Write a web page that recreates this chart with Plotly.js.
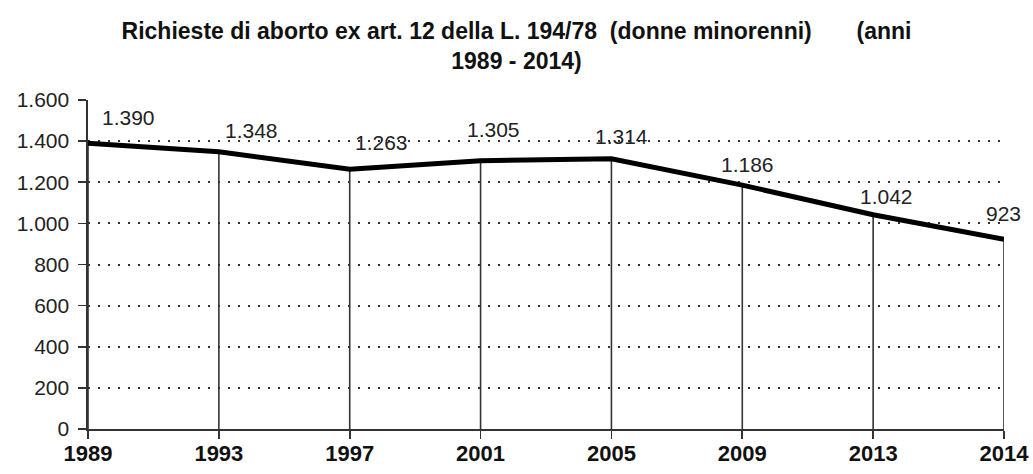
<!DOCTYPE html>
<html><head><meta charset="utf-8">
<script src="https://cdn.plot.ly/plotly-3.0.1.min.js"></script>
<style>body{margin:0;background:#fff}#c{width:1033px;height:474px}</style>
</head><body><div id="c"></div>
<script>
const years = ['1989','1993','1997','2001','2005','2009','2013','2014'];
const values = [1390, 1348, 1263, 1305, 1314, 1186, 1042, 923];
const yTicks = [0,200,400,600,800,1000,1200,1400,1600];
// label offsets in px (style only)
const labelDx = [40, 33, 32, 13, 10, 5, 13, -1];
const labelDy = [26, 21, 27, 31, 22, 21, 18, 26];

function fmt(v){ return String(v).replace(/\B(?=(\d{3})+(?!\d))/g, '.'); }

const dropX = [], dropY = [];
years.forEach((y,i)=>{ dropX.push(i,i,null); dropY.push(0,values[i],null); });

const FONT = 'Liberation Sans, Arial, sans-serif';

const traces = [
  {x: dropX, y: dropY, mode:'lines', line:{color:'#333', width:1.6}, hoverinfo:'skip', showlegend:false},
  {x: years.map((_,i)=>i), y: values, mode:'lines', line:{color:'#000', width:5}, showlegend:false}
];

const annotations = values.map((v,i)=>({
  x:i, y:v, xref:'x', yref:'y', text: fmt(v), showarrow:false,
  xshift: labelDx[i], yshift: labelDy[i],
  font:{family:FONT, size:21, color:'#222'}
}));

const layout = {
  width:1033, height:474,
  margin:{l:88, r:29, t:100, b:45},
  paper_bgcolor:'#fff', plot_bgcolor:'#fff',
  title:{text:'<b>Richieste di aborto ex art. 12 della L. 194/78\u00a0 (donne minorenni)\u00a0\u00a0\u00a0\u00a0\u00a0\u00a0 (anni<br>1989 - 2014)</b>',
    x:0.5, xanchor:'center', xref:'container', yref:'container', y:1-39/474, yanchor:'top',
    font:{family:FONT, size:23, color:'#111'}},
  xaxis:{
    range:[0,7], tickmode:'array', tickvals: years.map((_,i)=>i), ticktext: years.map(y=>'<b>'+y+'</b>'),
    showgrid:false, zeroline:false, showline:true, linecolor:'#333', linewidth:1.6,
    ticks:'outside', ticklen:8, tickcolor:'#333', tickwidth:1.6, ticklabelstandoff:-4,
    tickfont:{family:FONT, size:22, color:'#111'},
    fixedrange:true
  },
  yaxis:{
    range:[0,1600], tickmode:'array', tickvals: yTicks, ticktext: yTicks.map(fmt),
    showgrid:true, gridcolor:'#333', gridwidth:2, griddash:'2px,8px',
    zeroline:false, showline:true, linecolor:'#333', linewidth:1.6,
    ticks:'outside', ticklen:8, tickcolor:'#333', tickwidth:1.6, ticklabelstandoff:5,
    tickfont:{family:FONT, size:21, color:'#222'},
    fixedrange:true
  },
  annotations: annotations,
  showlegend:false
};
Plotly.newPlot('c', traces, layout, {staticPlot:true});
</script></body></html>
